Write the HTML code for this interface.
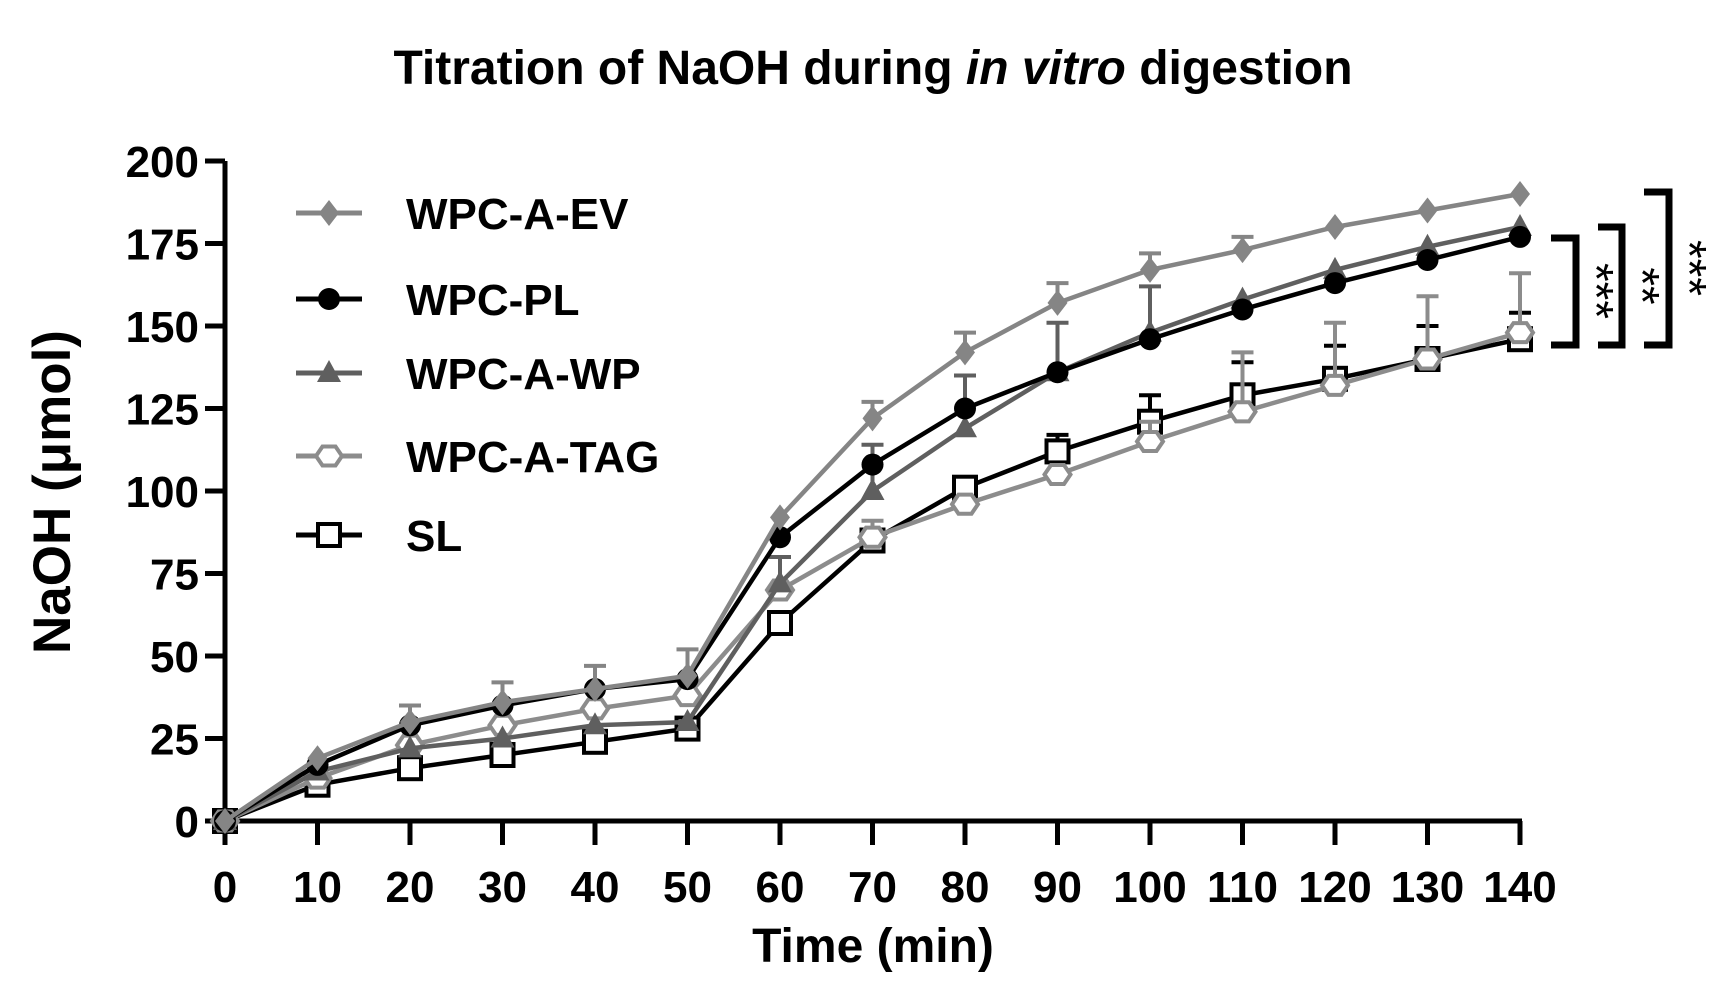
<!DOCTYPE html>
<html><head><meta charset="utf-8"><style>
html,body{margin:0;padding:0;background:#fff;}
svg{display:block;font-family:"Liberation Sans",Arial,sans-serif;font-weight:bold;}
</style></head><body>
<svg id="c" width="1713" height="981" viewBox="0 0 1713 981" xmlns="http://www.w3.org/2000/svg">
<text x="873" y="84" text-anchor="middle" font-size="48">Titration of NaOH during <tspan font-style="italic">in vitro</tspan> digestion</text>
<text transform="translate(70,492) rotate(-90)" text-anchor="middle" font-size="53">NaOH (μmol)</text>
<text x="873" y="962" text-anchor="middle" font-size="48">Time (min)</text>
<g id="axes" stroke="#000" stroke-width="5" fill="none"></g>
<g id="ticklabels" font-size="44"></g>
<g id="series"></g>
<g id="legend" font-size="44"></g>
<g stroke="#000" stroke-width="7" fill="none">
<polyline points="1551,238 1576,238 1576,345 1551,345"/>
<polyline points="1598,227 1622,227 1622,345 1598,345"/>
<polyline points="1644,192 1669,192 1669,345 1644,345"/>
</g>
<g font-size="48" font-weight="normal">
<text transform="translate(1580,291) rotate(90)" text-anchor="middle">***</text>
<text transform="translate(1626,286) rotate(90)" text-anchor="middle">**</text>
<text transform="translate(1673,268) rotate(90)" text-anchor="middle">***</text>
</g>
</svg>
<script>
const NS="http://www.w3.org/2000/svg";
const X0=225,DX=9.25,Y0=821,DY=3.3;
const px=t=>X0+t*DX, py=v=>Y0-v*DY;
function el(p,tag,a,txt){const e=document.createElementNS(NS,tag);for(const k in a)e.setAttribute(k,a[k]);if(txt!==undefined)e.textContent=txt;p.appendChild(e);return e;}
const ax=document.getElementById('axes'),tl=document.getElementById('ticklabels');
el(ax,'line',{x1:X0,y1:py(0),x2:X0,y2:py(200)});
el(ax,'line',{x1:X0-2,y1:Y0,x2:px(140)+2,y2:Y0});
for(let v=0;v<=200;v+=25){el(ax,'line',{x1:X0-20,y1:py(v),x2:X0,y2:py(v)});el(tl,'text',{x:X0-26,y:py(v)+16,'text-anchor':'end'},v);}
for(let t=0;t<=140;t+=10){el(ax,'line',{x1:px(t),y1:Y0,x2:px(t),y2:Y0+24});el(tl,'text',{x:px(t),y:902,'text-anchor':'middle'},t);}
const T=[0,10,20,30,40,50,60,70,80,90,100,110,120,130,140];
const S=[
{n:'SL',c:'#000',m:'sq',d:[0,11,16,20,24,28,60,85,101,112,121,129,134,140,146],e:[0,0,0,0,0,0,0,0,0,5,8,10,10,10,8]},
{n:'WPC-A-TAG',c:'#8c8c8c',m:'hex',d:[0,13,23,29,34,38,70,86,96,105,115,124,132,140,148],e:[0,0,0,0,0,0,0,5,0,0,6,18,19,19,18]},
{n:'WPC-A-WP',c:'#5f5f5f',m:'tri',d:[0,15,22,25,29,30,72,100,119,136,148,158,167,174,180],e:[0,0,0,0,0,0,8,14,16,15,14,0,0,0,0]},
{n:'WPC-PL',c:'#000',m:'circ',d:[0,17,29,35,40,43,86,108,125,136,146,155,163,170,177],e:[0,0,0,0,0,0,0,0,0,0,0,0,0,0,0]},
{n:'WPC-A-EV',c:'#858585',m:'dia',d:[0,19,30,36,40,44,92,122,142,157,167,173,180,185,190],e:[0,0,5,6,7,8,0,5,6,6,5,4,0,0,0]}
];
function marker(g,m,x,y,c,s){s=s||1;
 if(m==='sq')el(g,'rect',{x:x-11*s,y:y-11*s,width:22*s,height:22*s,fill:'#fff',stroke:c,'stroke-width':4});
 else if(m==='hex'){let p=[];for(let i=0;i<6;i++){const a=Math.PI/3*i;p.push((x+13*s*Math.cos(a))+','+(y+11*s*Math.sin(a)));}el(g,'polygon',{points:p.join(' '),fill:'#fff',stroke:c,'stroke-width':4});}
 else if(m==='tri')el(g,'polygon',{points:`${x},${y-13*s} ${x+12*s},${y+9*s} ${x-12*s},${y+9*s}`,fill:c});
 else if(m==='circ')el(g,'circle',{cx:x,cy:y,r:11*s,fill:c});
 else if(m==='dia')el(g,'polygon',{points:`${x},${y-13*s} ${x+10*s},${y} ${x},${y+13*s} ${x-10*s},${y}`,fill:c});
}
const sg=document.getElementById('series');
S.forEach(s=>{
 s.e.forEach((e,i)=>{if(e>0){const x=px(T[i]),y=py(s.d[i]),y2=py(s.d[i]+e);el(sg,'line',{x1:x,y1:y,x2:x,y2:y2,stroke:s.c,'stroke-width':4});el(sg,'line',{x1:x-11,y1:y2,x2:x+11,y2:y2,stroke:s.c,'stroke-width':4});}});
 el(sg,'polyline',{points:s.d.map((v,i)=>px(T[i])+','+py(v)).join(' '),fill:'none',stroke:s.c,'stroke-width':4.5});
 s.d.forEach((v,i)=>marker(sg,s.m,px(T[i]),py(v),s.c));
});
const lg=document.getElementById('legend');
const L=[['WPC-A-EV',213],['WPC-PL',299],['WPC-A-WP',373],['WPC-A-TAG',456],['SL',535]];
L.forEach(([n,y])=>{const s=S.find(q=>q.n===n);el(lg,'line',{x1:296,y1:y,x2:362,y2:y,stroke:s.c,'stroke-width':5});marker(lg,s.m,329,y,s.c);el(lg,'text',{x:406,y:y+16},n);});
</script>
</body></html>
